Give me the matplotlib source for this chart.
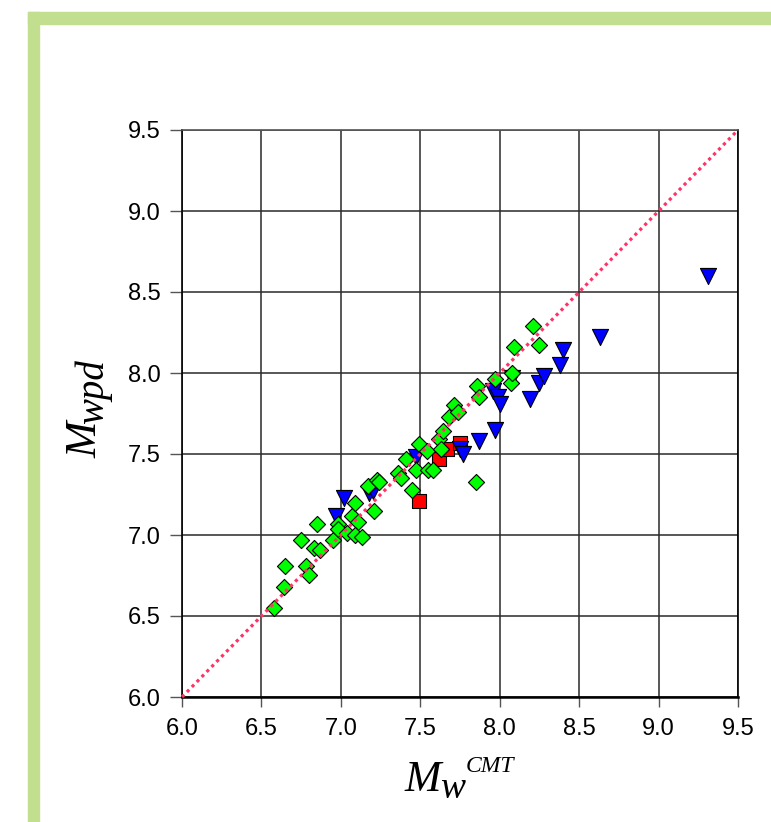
import matplotlib
matplotlib.use("Agg")
import matplotlib.pyplot as plt
from matplotlib.patches import Rectangle

# green diamonds
green_x = [6.58, 6.64, 6.65, 6.78, 6.80, 6.75, 6.83, 6.87, 6.85, 6.95, 6.98, 6.98,
           7.04, 7.07, 7.09, 7.11, 7.09, 7.13, 7.21, 7.17, 7.23, 7.24, 7.36, 7.38,
           7.41, 7.47, 7.45, 7.49, 7.54, 7.55, 7.58, 7.62, 7.63, 7.64, 7.68, 7.71,
           7.74, 7.85, 7.86, 7.87, 7.97, 8.07, 8.08, 8.09, 8.21, 8.25]
green_y = [6.55, 6.68, 6.81, 6.81, 6.75, 6.97, 6.92, 6.91, 7.07, 6.97, 7.07, 7.04,
           7.01, 7.12, 7.20, 7.08, 7.00, 6.99, 7.15, 7.30, 7.34, 7.33, 7.38, 7.35,
           7.47, 7.40, 7.28, 7.56, 7.52, 7.40, 7.40, 7.59, 7.53, 7.64, 7.73, 7.80,
           7.76, 7.33, 7.92, 7.85, 7.96, 7.94, 8.00, 8.16, 8.29, 8.17]

# blue triangles
blue_x = [6.97, 7.02, 7.18, 7.20, 7.47, 7.75, 7.77, 7.87, 7.97, 7.96, 7.99, 8.00,
          8.08, 8.19, 8.25, 8.28, 8.38, 8.40, 8.63, 9.31]
blue_y = [7.12, 7.23, 7.26, 7.27, 7.48, 7.53, 7.50, 7.58, 7.65, 7.89, 7.85, 7.81,
          7.97, 7.84, 7.94, 7.98, 8.05, 8.14, 8.22, 8.60]

# red squares
red_x = [7.49, 7.62, 7.67, 7.75]
red_y = [7.21, 7.47, 7.53, 7.57]

ticks = [6.0, 6.5, 7.0, 7.5, 8.0, 8.5, 9.0, 9.5]
tick_labels = ["6.0", "6.5", "7.0", "7.5", "8.0", "8.5", "9.0", "9.5"]

W, H = 771, 822
fig = plt.figure(figsize=(W / 100, H / 100), dpi=100)

# light green frame (top and left bands)
frame = "#c2df8f"
fig.patches.append(Rectangle((28 / W, 1 - 24 / H), 1 - 28 / W, 12 / H,
                             transform=fig.transFigure, color=frame, zorder=0))
fig.patches.append(Rectangle((28 / W, 0), 11 / W, 1 - 12 / H,
                             transform=fig.transFigure, color=frame, zorder=0))

ax = fig.add_axes([182 / W, 1 - 697 / H, 556 / W, 567 / H])
ax.set_xlim(6.0, 9.5)
ax.set_ylim(6.0, 9.5)
ax.set_xticks(ticks)
ax.set_yticks(ticks)
ax.set_xticklabels(tick_labels, family="Liberation Sans", fontsize=17)
ax.set_yticklabels(tick_labels, family="Liberation Sans", fontsize=17)
ax.tick_params(axis="y", direction="out", length=8.6, width=1, color="#555555", pad=7)
ax.tick_params(axis="x", direction="out", length=7.2, width=1, color="#555555", pad=8)
ax.grid(True, color="#2a2a2a", lw=1.1)
ax.set_axisbelow(True)
for s in ax.spines.values():
    s.set_color("black")
    s.set_linewidth(1.2)
ax.spines["top"].set_color("#555555")
ax.spines["bottom"].set_linewidth(1.8)

ax.scatter(red_x, red_y, marker="s", s=10.6 ** 2, c="#ff0000",
           edgecolors="black", linewidths=0.8, zorder=3)
ax.scatter(blue_x, blue_y, marker="v", s=11.6 ** 2, c="#0000ff",
           edgecolors="black", linewidths=0.8, zorder=4)
ax.scatter(green_x, green_y, marker="D", s=8.2 ** 2, c="#00ff00",
           edgecolors="black", linewidths=0.8, zorder=5)

ax.plot([6.0, 9.5], [6.0, 9.5], color="#ff3366", lw=2.3,
        linestyle=(0, (1.0, 1.2)), zorder=6, clip_on=False)

# axis labels built from pieces
serif = dict(family="Liberation Serif", style="italic", color="black")
fig.text(405 / W, 1 - 791 / H, "M", fontsize=31.5, ha="left", va="baseline", **serif)
fig.text(440 / W, 1 - 798 / H, "w", fontsize=27, ha="left", va="baseline", **serif)
fig.text(466 / W, 1 - 772 / H, "CMT", fontsize=17, ha="left", va="baseline", **serif)

fig.text(97 / W, 1 - 458 / H, "M", fontsize=31.5, rotation=90,
         ha="left", va="baseline", rotation_mode="anchor", **serif)
fig.text(103 / W, 1 - 424 / H, "wpd", fontsize=28, rotation=90,
         ha="left", va="baseline", rotation_mode="anchor", **serif)

fig.savefig("out.png", dpi=100)
